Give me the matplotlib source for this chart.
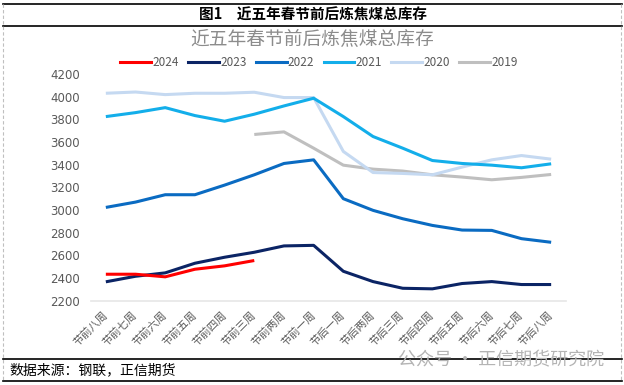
import matplotlib
matplotlib.use("Agg")
import matplotlib.pyplot as plt
from matplotlib.lines import Line2D
import numpy as np

plt.rcParams['font.family'] = ['Noto Sans CJK SC', 'DejaVu Sans']

categories = ["节前八周", "节前七周", "节前六周", "节前五周", "节前四周", "节前三周", "节前两周", "节前一周",
              "节后一周", "节后两周", "节后三周", "节后四周", "节后五周", "节后六周", "节后七周", "节后八周"]

s2024 = [2432, 2432, 2409, 2476, 2506, 2553]
s2023 = [2365, 2414, 2444, 2529, 2582, 2626, 2682, 2687, 2458, 2367, 2308, 2303, 2350, 2367, 2341, 2341]
s2022 = [3022, 3069, 3134, 3134, 3219, 3310, 3410, 3442, 3099, 2996, 2922, 2863, 2822, 2819, 2746, 2714]
s2021 = [3824, 3859, 3903, 3833, 3783, 3845, 3918, 3986, 3824, 3648, 3545, 3436, 3410, 3395, 3372, 3407]
s2020 = [4030, 4041, 4018, 4030, 4030, 4039, 3992, 3992, 3516, 3330, 3322, 3310, 3378, 3442, 3480, 3448]
s2019 = [None, None, None, None, None, 3666, 3689, 3545, 3395, 3360, 3343, 3310, 3290, 3266, 3287, 3313]

series = [("2024", s2024, "#FF0000"),
          ("2023", s2023, "#0B2465"),
          ("2022", s2022, "#0A6BC2"),
          ("2021", s2021, "#13AEEA"),
          ("2020", s2020, "#C5D9F1"),
          ("2019", s2019, "#BFBFBF")]

yticks = [2200, 2400, 2600, 2800, 3000, 3200, 3400, 3600, 3800, 4000, 4200]

W, H = 624, 385
fig = plt.figure(figsize=(W / 100, H / 100), dpi=100)

def fx(px):
    return px / W

def fy(py):
    return 1 - py / H

ax = fig.add_axes([fx(91), fy(300.5), fx(566) - fx(91), fy(74) - fy(300.5)])
x = np.arange(len(categories))
for name, vals, col in reversed(series):
    v = np.array([np.nan if t is None else t for t in vals], dtype=float)
    ax.plot(x[:len(v)], v, color=col, lw=2.2, solid_capstyle='butt', solid_joinstyle='round', zorder=3)

ax.set_xlim(-0.5, len(categories) - 0.5)
ax.set_ylim(2200, 4200)
ax.set_yticks(yticks)
ax.set_yticklabels([str(t) for t in yticks], fontsize=8.5, color="#595959", family=['DejaVu Sans'])
ax.set_xticks(x)
ax.set_xticklabels(categories, rotation=45, ha='right', va='center', rotation_mode='anchor',
                   fontsize=7.8, color="#595959")
ax.tick_params(axis='both', length=0)
ax.tick_params(axis='y', pad=8)
ax.tick_params(axis='x', pad=9)
for sp in ['top', 'right', 'left']:
    ax.spines[sp].set_visible(False)
ax.spines['bottom'].set_color("#E6E6E6")
ax.spines['bottom'].set_linewidth(1.2)
ax.patch.set_alpha(0)

# Legend
handles = [Line2D([0], [0], color=c, lw=2.2) for _, _, c in series]
labels = [n for n, _, _ in series]
leg = fig.legend(handles, labels, loc='center', bbox_to_anchor=(fx(319), fy(63)), ncol=6,
                 frameon=False, fontsize=8.5, handlelength=2.6, handletextpad=0.1, columnspacing=0.8,
                 labelcolor="#595959")

# Chart title
fig.text(fx(312), fy(40), "近五年春节前后炼焦煤总库存", ha='center', va='center', fontsize=13.5, color="#8C8C8C")

# Header
fig.text(fx(313), fy(15), "图1　近五年春节前后炼焦煤总库存", ha='center', va='center', fontsize=10.5,
         fontweight='bold', color='black')

# Frame lines
def hline(py, lw):
    fig.add_artist(Line2D([fx(3), fx(622)], [fy(py), fy(py)], color='black', lw=lw))

hline(4, 1.2)
hline(25.7, 1.2)
hline(359.3, 1.2)
hline(381, 1.2)
for px in (3, 621):
    fig.add_artist(Line2D([fx(px), fx(px)], [fy(4), fy(381)], color='#BFBFBF', lw=0.8, ls=(0, (3, 2))))

# Footer
fig.text(fx(9), fy(370), "数据来源：钢联，正信期货", ha='left', va='center', fontsize=10, color='black')

# Watermark
fig.text(fx(604), fy(360), "公众号 · 正信期货研究院", ha='right', va='center', fontsize=13, color='#B4B4B4')

fig.savefig("out.png", dpi=100)
